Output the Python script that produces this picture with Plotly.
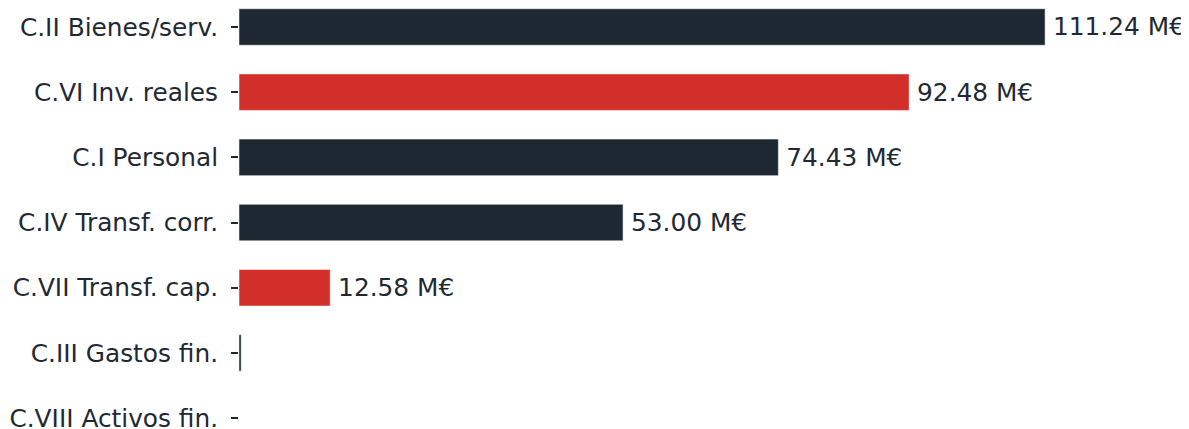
import plotly.graph_objects as go

categories = ["C.II Bienes/serv.", "C.VI Inv. reales", "C.I Personal",
              "C.IV Transf. corr.", "C.VII Transf. cap.", "C.III Gastos fin.",
              "C.VIII Activos fin."]
values = [111.24, 92.48, 74.43, 53.00, 12.58, 0.3, 0.0]
colors = ["#1e2832", "#d32f2a", "#1e2832", "#1e2832", "#d32f2a", "#1e2832", "#1e2832"]
labels = [f"\u2009{v:.2f} M€" if v >= 1 else "" for v in values]

FS = 24.8

fig = go.Figure(go.Bar(
    x=values, y=categories, orientation="h",
    marker=dict(color=colors, line=dict(color="white", width=0.5)),
    width=0.56,
    text=labels, textposition="outside", cliponaxis=False,
    textfont=dict(family="DejaVu Sans", size=FS, color="#1f2933"),
))

fig.update_layout(
    width=1181, height=421,
    margin=dict(l=231, r=0, t=0, b=0, autoexpand=False),
    plot_bgcolor="white", paper_bgcolor="white",
    font=dict(family="DejaVu Sans", size=FS, color="#1f2933"),
    showlegend=False,
)
fig.update_xaxes(range=[0, 131.1], visible=False, showgrid=False, zeroline=False,
                 automargin=False)
fig.update_yaxes(
    categoryorder="array", categoryarray=categories,
    range=[6.166, -0.291], automargin=False,
    ticks="outside", ticklen=7, tickwidth=1.5, tickcolor="#1e2832",
    showline=False, showgrid=False, zeroline=False,
    ticklabelstandoff=8,
    tickfont=dict(family="DejaVu Sans", size=FS, color="#1f2933"),
)

fig.write_html("out.html")
